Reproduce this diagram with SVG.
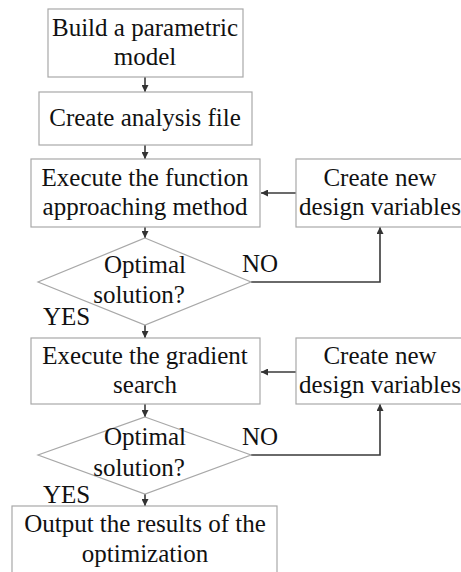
<svg xmlns="http://www.w3.org/2000/svg" width="461" height="572" viewBox="0 0 461 572">
  <defs>
    <marker id="arrow" viewBox="0 0 10 10" refX="10" refY="5" markerWidth="7" markerHeight="7" markerUnits="userSpaceOnUse" orient="auto">
      <path d="M0,0 L10,5 L0,10 z" fill="#333"/>
    </marker>
    <style>
      .box { fill: #fff; stroke: #a8a8a8; stroke-width: 1.2; }
      .lbl { font-family: 'Liberation Serif', Tinos, 'Times New Roman', Times, 'DejaVu Serif', serif; font-size: 25px; fill: #111; text-anchor: middle; }
      .tag { font-family: 'Liberation Serif', Tinos, 'Times New Roman', Times, 'DejaVu Serif', serif; font-size: 25px; fill: #111; }
      .edge { fill: none; stroke: #3a3a3a; stroke-width: 1.6; marker-end: url(#arrow); }
    </style>
  </defs>
  <rect width="461" height="572" fill="#fff"/>

  <g id="connectors">
    <path class="edge" d="M145,77 V92"/>
    <path class="edge" d="M145,145 V159"/>
    <path class="edge" d="M296,193 H261"/>
    <path class="edge" d="M145,227 V238"/>
    <path class="edge" d="M251,282 H380 V227"/>
    <path class="edge" d="M145,325 V338"/>
    <path class="edge" d="M296,372 H261"/>
    <path class="edge" d="M145,404 V417"/>
    <path class="edge" d="M251,455 H380 V404"/>
    <path class="edge" d="M145,494 V506"/>
  </g>

  <g id="build-model">
    <rect class="box" x="48" y="9" width="195" height="68"/>
    <text class="lbl" x="145" y="36" font-family="Liberation Serif, serif">Build a parametric</text>
    <text class="lbl" x="145" y="65">model</text>
  </g>

  <g id="analysis-file">
    <rect class="box" x="39" y="92" width="213" height="53"/>
    <text class="lbl" x="145" y="126">Create analysis file</text>
  </g>

  <g id="function-approach">
    <rect class="box" x="31" y="159" width="229" height="68"/>
    <text class="lbl" x="145" y="186">Execute the function</text>
    <text class="lbl" x="145" y="215">approaching method</text>
  </g>

  <g id="new-variables-1">
    <rect class="box" x="296" y="159" width="180" height="68"/>
    <text class="lbl" x="380" y="186">Create new</text>
    <text class="lbl" x="380" y="215">design variables</text>
  </g>

  <g id="decision-1">
    <polygon class="box" points="145,238 251,282 145,325 38,282"/>
    <text class="lbl" x="145" y="273">Optimal</text>
    <text class="lbl" x="139" y="303">solution?</text>
    <text class="tag" x="242" y="272">NO</text>
    <text class="tag" x="43" y="325">YES</text>
  </g>

  <g id="gradient-search">
    <rect class="box" x="31" y="338" width="229" height="66"/>
    <text class="lbl" x="145" y="364">Execute the gradient</text>
    <text class="lbl" x="145" y="393">search</text>
  </g>

  <g id="new-variables-2">
    <rect class="box" x="296" y="338" width="180" height="66"/>
    <text class="lbl" x="380" y="364">Create new</text>
    <text class="lbl" x="380" y="393">design variables</text>
  </g>

  <g id="decision-2">
    <polygon class="box" points="145,417 251,455 145,494 38,455"/>
    <text class="lbl" x="145" y="445">Optimal</text>
    <text class="lbl" x="139" y="476">solution?</text>
    <text class="tag" x="242" y="445">NO</text>
    <text class="tag" x="43" y="503">YES</text>
  </g>

  <g id="output-results">
    <rect class="box" x="12" y="506" width="265" height="80"/>
    <text class="lbl" x="145" y="532">Output the results of the</text>
    <text class="lbl" x="145" y="562">optimization</text>
  </g>
</svg>
